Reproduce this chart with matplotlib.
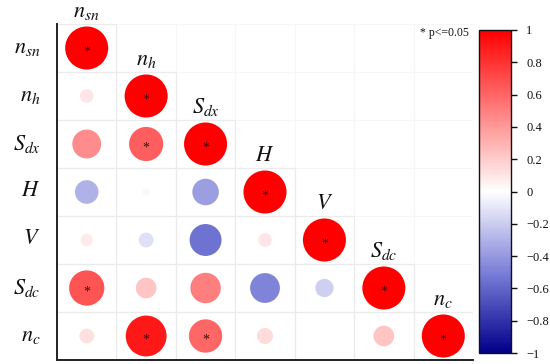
import matplotlib
matplotlib.use("Agg")
import matplotlib.pyplot as plt
import numpy as np
from matplotlib.colors import LinearSegmentedColormap, Normalize

plt.rcParams["mathtext.fontset"] = "stix"
plt.rcParams["font.family"] = "Liberation Serif"

LABELS = [r"$n_{sn}$", r"$n_h$", r"$S_{dx}$", r"$H$", r"$V$", r"$S_{dc}$", r"$n_c$"]

# lower triangle, row by row (row i has i+1 values incl. diagonal)
ROW_NSN = [1.0]
ROW_NH = [0.10, 1.0]
ROW_SDX = [0.45, 0.63, 1.0]
ROW_H = [-0.30, -0.03, -0.38, 1.0]
ROW_V = [0.08, -0.12, -0.55, 0.10, 1.0]
ROW_SDC = [0.67, 0.23, 0.50, -0.48, -0.18, 1.0]
ROW_NC = [0.12, 0.90, 0.60, 0.14, 0.0, 0.23, 1.0]
ROWS = [ROW_NSN, ROW_NH, ROW_SDX, ROW_H, ROW_V, ROW_SDC, ROW_NC]

# significance flags (p <= 0.05)
SIG_NSN = [1]
SIG_NH = [0, 1]
SIG_SDX = [0, 1, 1]
SIG_H = [0, 0, 0, 1]
SIG_V = [0, 0, 0, 0, 1]
SIG_SDC = [1, 0, 0, 0, 0, 1]
SIG_NC = [0, 1, 1, 0, 0, 0, 1]
SIGS = [SIG_NSN, SIG_NH, SIG_SDX, SIG_H, SIG_V, SIG_SDC, SIG_NC]

CBAR_TICKS = [1, 0.8, 0.6, 0.4, 0.2, 0, -0.2, -0.4, -0.6, -0.8, -1]

cmap = LinearSegmentedColormap.from_list(
    "corr", [(0.0, "#00008B"), (0.25, "#7B80D8"), (0.5, "#FFFFFF"), (1.0, "#FF0000")])
norm = Normalize(-1, 1)

W, H = 550, 364
fig = plt.figure(figsize=(5.5, 3.64), dpi=100)

# main axes in pixel coordinates: x 57..473, y 24..360
ax = fig.add_axes([57 / W, (H - 360) / H, 416 / W, 336 / H])
n = len(LABELS)
ax.set_xlim(-0.5, n - 0.5)
ax.set_ylim(n - 0.5, -0.5)
ax.set_xticks([])
ax.set_yticks([])
for side in ("top", "right"):
    ax.spines[side].set_visible(False)
for side in ("left", "bottom"):
    ax.spines[side].set_color("#222222")
    ax.spines[side].set_linewidth(1.4)

# faint background grid of full matrix
for k in range(n + 1):
    ax.axvline(k - 0.5, color="#f6f6f6", lw=0.8, zorder=0)
    ax.axhline(k - 0.5, color="#f6f6f6", lw=0.8, zorder=0)

xs, ys, vals = [], [], []
for i, row in enumerate(ROWS):
    for j, v in enumerate(row):
        # cell border
        ax.add_patch(plt.Rectangle((j - 0.5, i - 0.5), 1, 1, fill=False,
                                   edgecolor="#ebebeb", lw=0.8, zorder=1))
        xs.append(j)
        ys.append(i)
        vals.append(v)
vals = np.array(vals)

full = 31.0  # marker diameter in points for |r| = 1
ax.scatter(xs, ys, s=np.abs(vals) * full ** 2, c=vals, cmap=cmap, norm=norm,
           edgecolors="none", zorder=3)

for i, row in enumerate(SIGS):
    for j, s in enumerate(row):
        if s:
            ax.text(j, i + 0.08, "*", ha="center", va="center", fontsize=10,
                    color="#3a1010", zorder=4)

# diagonal labels above each diagonal cell, row labels on the left
for k, lab in enumerate(LABELS):
    ax.text(k, k - 0.55, lab, ha="center", va="bottom", fontsize=16,
            color="#111111", clip_on=False)
    ax.text(-0.78, k, lab, ha="right", va="center", fontsize=16,
            color="#111111", clip_on=False)

fig.text(420 / W, 1 - 33 / H, "* p<=0.05", ha="left", va="center",
         fontsize=8.5, color="#111111")

# colorbar: x 479..511, y 30..353
cax = fig.add_axes([479 / W, (H - 353) / H, 32 / W, 323 / H])
sm = plt.cm.ScalarMappable(cmap=cmap, norm=norm)
cb = fig.colorbar(sm, cax=cax, ticks=CBAR_TICKS)
cb.outline.set_linewidth(1.0)
cb.outline.set_edgecolor("#111111")
cax.tick_params(direction="out", length=4, width=1, labelsize=9, pad=7,
                colors="#111111")
cax.set_yticklabels([("\u2212" + f"{abs(t):g}") if t < 0 else f"{t:g}" for t in CBAR_TICKS])

fig.savefig("out.png", dpi=100, facecolor="white")
